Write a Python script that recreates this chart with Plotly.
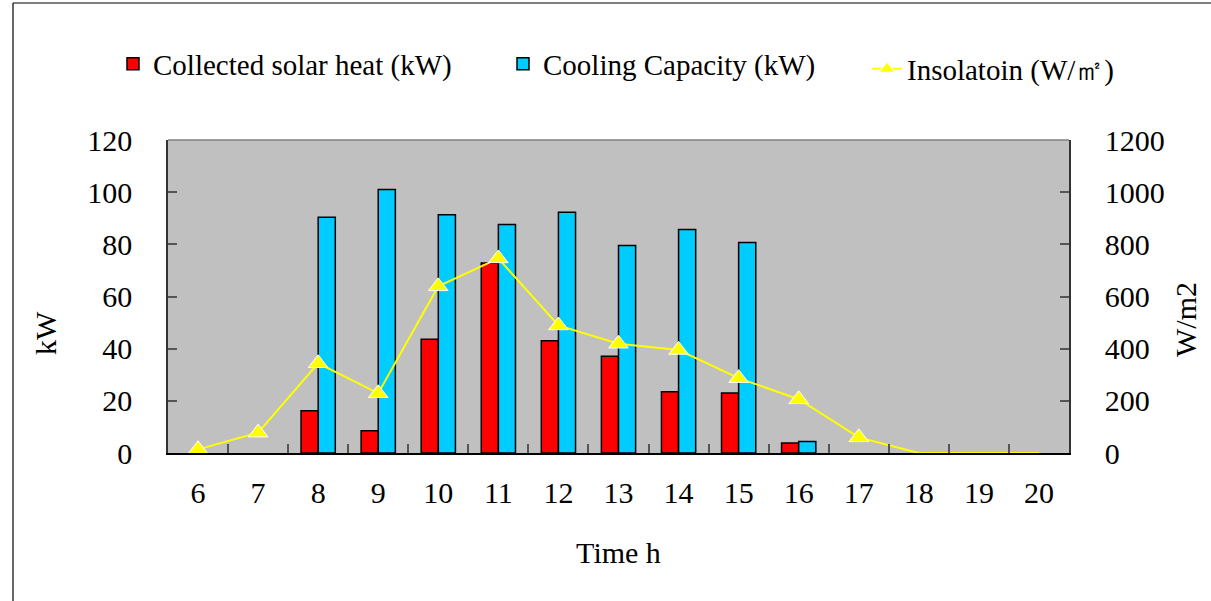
import plotly.graph_objects as go

hours = ["6", "7", "8", "9", "10", "11", "12", "13", "14", "15", "16", "17", "18", "19", "20"]
solar_heat = [None, None, 16.2, 8.5, 43.6, 72.8, 43.0, 37.1, 23.5, 23.0, 3.8, None, None, None, None]
cooling_capacity = [None, None, 90.4, 101.0, 91.3, 87.6, 92.3, 79.6, 85.7, 80.7, 4.4, None, None, None, None]
insolation = [14, 78, 344, 229, 639, 746, 489, 419, 395, 287, 206, 60, 0, 0, 0]
marker_sizes = [17] * 12 + [0] * 3

W, H = 1211, 601
L, R, T, B = 168, 142, 140, 148
FONT = '"Liberation Serif", "Times New Roman", serif'

fig = go.Figure()
fig.add_trace(go.Bar(
    x=hours, y=solar_heat, name="Collected solar heat (kW)", legend="legend",
    marker=dict(color="#FF0000", line=dict(color="#000000", width=1.5)),
))
fig.add_trace(go.Bar(
    x=hours, y=cooling_capacity, name="Cooling Capacity (kW)", legend="legend2",
    marker=dict(color="#00CCFF", line=dict(color="#000000", width=1.5)),
))
fig.add_trace(go.Scatter(
    x=hours, y=insolation, name="Insolatoin (W/㎡)", yaxis="y2", legend="legend3",
    mode="lines+markers", cliponaxis=False,
    line=dict(color="#FFFF00", width=2),
    marker=dict(symbol="triangle-up", size=marker_sizes, color="#FFFF00", opacity=1),
))

pw = W - L - R
ph = H - T - B


def legend_at(px, py):
    return dict(
        xref="container", yref="container", x=px / W, y=1 - py / H,
        xanchor="left", yanchor="middle", orientation="h",
        font=dict(family=FONT, size=29), bgcolor="rgba(0,0,0,0)",
        itemwidth=30,
    )


fig.update_layout(
    width=W, height=H,
    margin=dict(l=L, r=R, t=T, b=B, autoexpand=False),
    paper_bgcolor="white", plot_bgcolor="#C0C0C0",
    font=dict(family=FONT, size=30, color="black"),
    barmode="group", bargap=0.43, bargroupgap=0,
    showlegend=True,
    legend=legend_at(113, 64),
    legend2=legend_at(503, 64),
    legend3=legend_at(867, 69),
    xaxis=dict(
        type="category", range=[-0.5, 14.5], showline=True, linecolor="black", linewidth=1.5,
        ticks="inside", tickson="boundaries", ticklen=9, tickcolor="#555555", tickwidth=1.5,
        ticklabelstandoff=12, showgrid=False, zeroline=False,
        title=dict(text="Time h", standoff=34, font=dict(size=30)),
    ),
    yaxis=dict(
        range=[0, 120], dtick=20, showline=True, linecolor="#333333", linewidth=1.5,
        ticks="inside", ticklen=9, tickcolor="#555555", tickwidth=1.5,
        ticklabelstandoff=28, showgrid=False, zeroline=False,
    ),
    yaxis2=dict(
        range=[0, 1200], dtick=200, overlaying="y", side="right",
        showline=True, linecolor="#333333", linewidth=1.5,
        ticks="inside", ticklen=9, tickcolor="#555555", tickwidth=1.5,
        ticklabelstandoff=28, showgrid=False, zeroline=False,
    ),
    annotations=[
        dict(text="kW", xref="paper", yref="paper", x=(45 - L) / pw, y=(H - B - 333) / ph,
             showarrow=False, textangle=-90, font=dict(size=30), xanchor="center", yanchor="middle"),
        dict(text="W/m2", xref="paper", yref="paper", x=(1185 - L) / pw, y=(H - B - 320) / ph,
             showarrow=False, textangle=-90, font=dict(size=30), xanchor="center", yanchor="middle"),
    ],
    shapes=[
        dict(type="line", xref="paper", yref="paper", x0=0, x1=1, y0=1, y1=1,
             line=dict(color="#808080", width=1.5)),
        dict(type="line", xref="paper", yref="paper",
             x0=(13 - L) / pw, x1=(13 - L) / pw, y0=1 + (T - 3) / ph, y1=-(H - T - ph) / ph - 0.1,
             line=dict(color="black", width=1.2)),
        dict(type="line", xref="paper", yref="paper",
             x0=(13 - L) / pw, x1=(W - L) / pw, y0=1 + (T - 3) / ph, y1=1 + (T - 3) / ph,
             line=dict(color="black", width=1.2)),
    ],
)

fig.write_html("out.html")
